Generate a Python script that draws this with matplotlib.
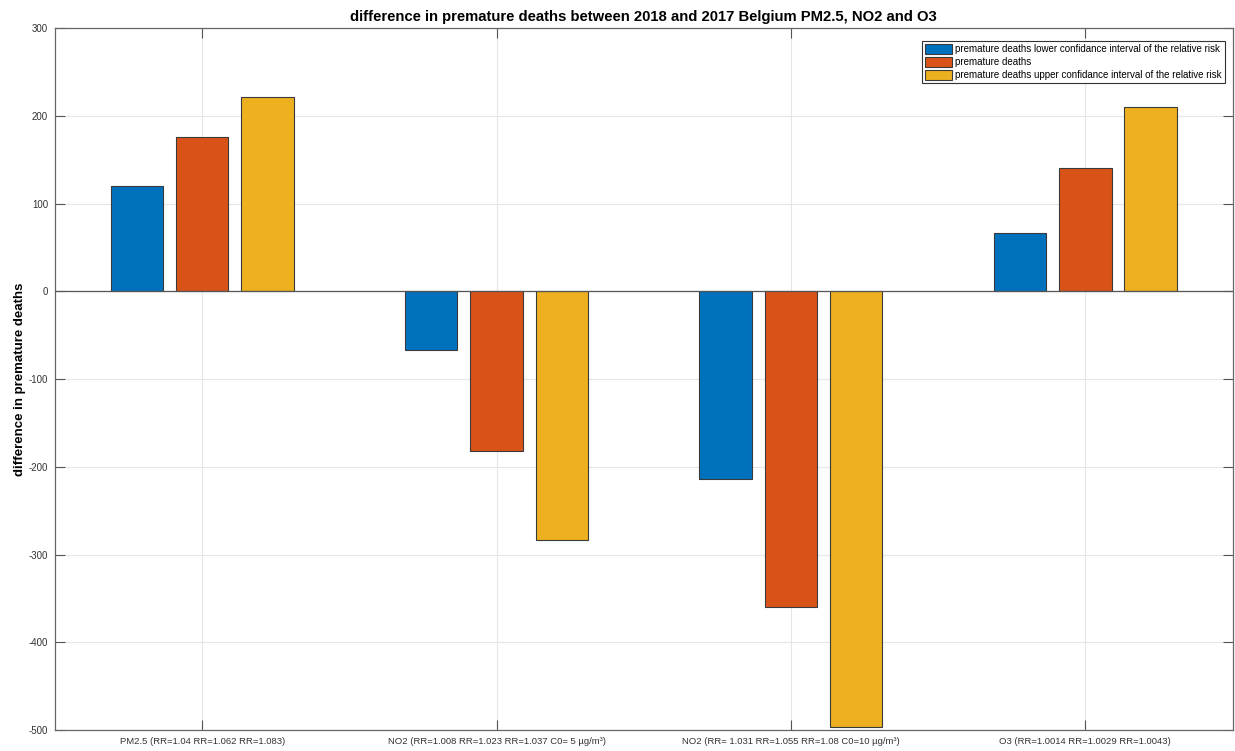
import numpy as np
import matplotlib
matplotlib.use('Agg')
from matplotlib import pyplot as plt

plt.rcParams['font.family'] = ['Liberation Sans', 'DejaVu Sans']
plt.rcParams['axes.unicode_minus'] = False

categories = ['PM2.5 (RR=1.04 RR=1.062 RR=1.083)',
              'NO2 (RR=1.008 RR=1.023 RR=1.037 C0= 5 µg/m³)',
              'NO2 (RR= 1.031 RR=1.055 RR=1.08 C0=10 µg/m³)',
              'O3 (RR=1.0014 RR=1.0029 RR=1.0043)']
lower = [120, -67, -214, 67]
central = [176, -182, -360, 141]
upper = [222, -283, -497, 210]
series_names = ['premature deaths lower confidance interval of the relative risk',
                'premature deaths',
                'premature deaths upper confidance interval of the relative risk']
colors = ['#0072BD', '#D95319', '#EDB120']

fig = plt.figure(figsize=(12.35, 7.51), dpi=100)
ax = fig.add_axes([0.0445, 0.028, 0.9535, 0.9345])

x = np.arange(1, len(categories) + 1)
width = 0.178
step = 0.222
for i, (vals, name, c) in enumerate(zip([lower, central, upper], series_names, colors)):
    ax.bar(x + (i - 1) * step, vals, width, color=c, edgecolor='#3a3a3a',
           linewidth=0.8, label=name, zorder=3)

# baseline at zero
ax.axhline(0, color='#555555', linewidth=0.9, zorder=4)

ax.set_xlim(0.5, 4.5)
ax.set_ylim(-500, 300)
ax.set_xticks(x)
ax.set_xticklabels(categories, fontsize=6.8, color='#333333')
ax.set_yticks(np.arange(-500, 301, 100))
ax.tick_params(axis='y', labelsize=7, labelcolor='#333333')
ax.tick_params(direction='in', length=7, width=0.8, color='#555555',
               top=True, right=True, pad=5)
ax.grid(True, color='#e6e6e6', linewidth=0.8, zorder=0)
ax.set_axisbelow(True)
for s in ax.spines.values():
    s.set_color('#666666')
    s.set_linewidth(0.9)

ax.set_ylabel('difference in premature deaths', fontsize=9.5, fontweight='bold', labelpad=2)
ax.set_title('difference in premature deaths between 2018 and 2017 Belgium PM2.5, NO2 and O3',
             fontsize=10.7, fontweight='bold', pad=5)

leg = ax.legend(loc='upper right', fontsize=7, fancybox=False, framealpha=1,
                edgecolor='#333333', handlelength=2.8, handleheight=1.1,
                handletextpad=0.3, borderpad=0.3, labelspacing=0.3,
                bbox_to_anchor=(0.9975, 0.988))
leg.get_frame().set_linewidth(0.8)

fig.savefig('out.png', dpi=100)
